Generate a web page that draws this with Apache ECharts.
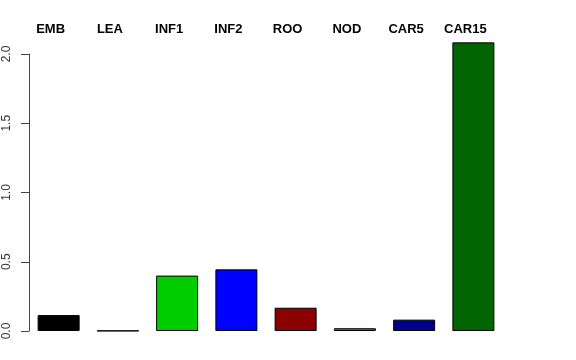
<!DOCTYPE html>
<html>
<head>
<meta charset="utf-8">
<script src="https://cdn.jsdelivr.net/npm/echarts@6/dist/echarts.min.js"></script>
<style>
html,body{margin:0;padding:0;background:#fff;}
#chart{width:576px;height:360px;}
</style>
</head>
<body>
<div id="chart"></div>
<script>
const categories = ['EMB', 'LEA', 'INF1', 'INF2', 'ROO', 'NOD', 'CAR5', 'CAR15'];
const values = [0.115, 0.002, 0.40, 0.445, 0.168, 0.02, 0.082, 2.084];
const barColors = ['#000000', '#bebebe', '#00CD00', '#0000FF', '#8B0000', '#FF00FF', '#00008B', '#006400'];
const yTicks = [0, 0.5, 1.0, 1.5, 2.0];

const chart = echarts.init(document.getElementById('chart'), null, {renderer: 'canvas'});
chart.setOption({
  animation: false,
  backgroundColor: '#ffffff',
  grid: {left: 29, right: 73, top: 54, bottom: 29, containLabel: false},
  xAxis: {
    type: 'category',
    position: 'top',
    data: categories,
    axisLine: {show: false},
    axisTick: {show: false},
    axisLabel: {
      fontFamily: 'Liberation Sans, Arial, sans-serif',
      fontWeight: 'bold',
      fontSize: 13,
      color: '#000',
      margin: 18,
      padding: [0, 16, 0, 0]
    }
  },
  yAxis: {
    type: 'value',
    min: yTicks[0],
    max: yTicks[yTicks.length - 1],
    interval: 0.5,
    splitLine: {show: false},
    axisLine: {show: true, lineStyle: {color: '#444', width: 1}},
    axisTick: {show: true, length: 8, lineStyle: {color: '#444', width: 1}},
    axisLabel: {
      rotate: 90,
      fontFamily: 'Liberation Sans, Arial, sans-serif',
      fontSize: 12,
      color: '#333',
      margin: 16,
      formatter: v => v.toFixed(1)
    }
  },
  series: [{
    type: 'bar',
    clip: false,
    barWidth: 42,
    data: values.map((v, i) => ({value: v, itemStyle: {color: barColors[i]}})),
    itemStyle: {borderColor: '#000', borderWidth: 1}
  }]
});
</script>
</body>
</html>
